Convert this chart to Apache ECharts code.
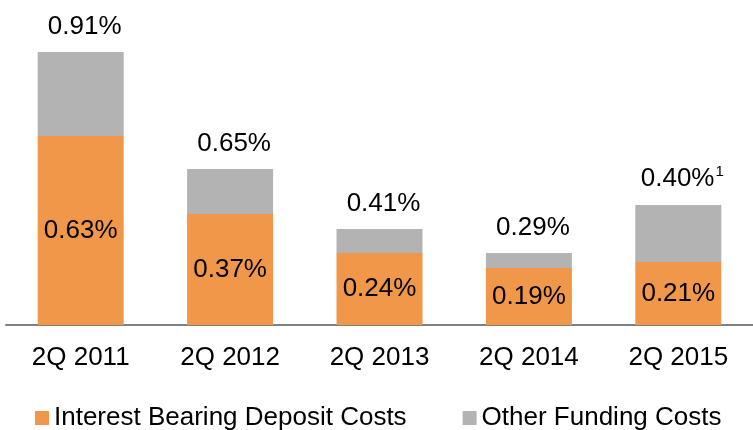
<!DOCTYPE html>
<html>
<head>
<meta charset="utf-8">
<script src="https://cdn.jsdelivr.net/npm/echarts@6/dist/echarts.min.js"></script>
<style>
  html, body { margin: 0; padding: 0; background: #fff; }
  #chart { width: 753px; height: 430px; }
</style>
</head>
<body>
<div id="chart"></div>
<script>
// funding costs by quarter (bar heights as drawn, labels as printed)
const quarters = ['2Q 2011', '2Q 2012', '2Q 2013', '2Q 2014', '2Q 2015'];
const depositCosts = [0.63, 0.37, 0.24, 0.19, 0.21];
const otherCosts = [0.28, 0.15, 0.08, 0.05, 0.19];
const totalLabels = ['0.91%', '0.65%', '0.41%', '0.29%', '0.40%'];
const footnotes = ['', '', '', '', '1'];

const chart = echarts.init(document.getElementById('chart'));
const font = 'Liberation Sans, Arial, sans-serif';

chart.setOption({
  animation: false,
  textStyle: { fontFamily: font },
  grid: { left: 6, right: -9, top: 25, bottom: 105 },
  legend: {
    top: 405,
    left: 35,
    padding: 0,
    itemWidth: 14,
    itemHeight: 14,
    itemGap: 56,
    icon: 'rect',
    textStyle: { fontSize: 26, color: '#000', fontFamily: font },
    data: ['Interest Bearing Deposit Costs', 'Other Funding Costs']
  },
  xAxis: {
    type: 'category',
    data: quarters,
    axisLine: { lineStyle: { color: '#808080', width: 2 } },
    axisTick: { show: false },
    axisLabel: { fontSize: 26, color: '#000', margin: 20, fontFamily: font }
  },
  yAxis: {
    type: 'value',
    min: 0,
    max: 1,
    show: false,
    splitLine: { show: false }
  },
  series: [
    {
      name: 'Interest Bearing Deposit Costs',
      type: 'bar',
      stack: 'cost',
      barWidth: 86,
      data: depositCosts,
      itemStyle: { color: '#F0974A' },
      label: {
        show: true,
        position: 'inside',
        fontSize: 26,
        color: '#000',
        fontFamily: font,
        formatter: p => p.value.toFixed(2) + '%'
      }
    },
    {
      name: 'Other Funding Costs',
      type: 'bar',
      stack: 'cost',
      barWidth: 86,
      data: otherCosts,
      itemStyle: { color: '#B3B3B3' },
      label: {
        show: true,
        position: 'top',
        distance: 12,
        offset: [4, 0],
        fontSize: 26,
        color: '#000',
        fontFamily: font,
        formatter: p => {
          const t = totalLabels[p.dataIndex];
          const f = footnotes[p.dataIndex];
          return f ? t + '{sup|' + f + '}' : t;
        },
        rich: {
          sup: { fontSize: 15, color: '#000', fontFamily: font, verticalAlign: 'top', padding: [0, 0, 14, 1] }
        }
      }
    }
  ]
});
</script>
</body>
</html>
